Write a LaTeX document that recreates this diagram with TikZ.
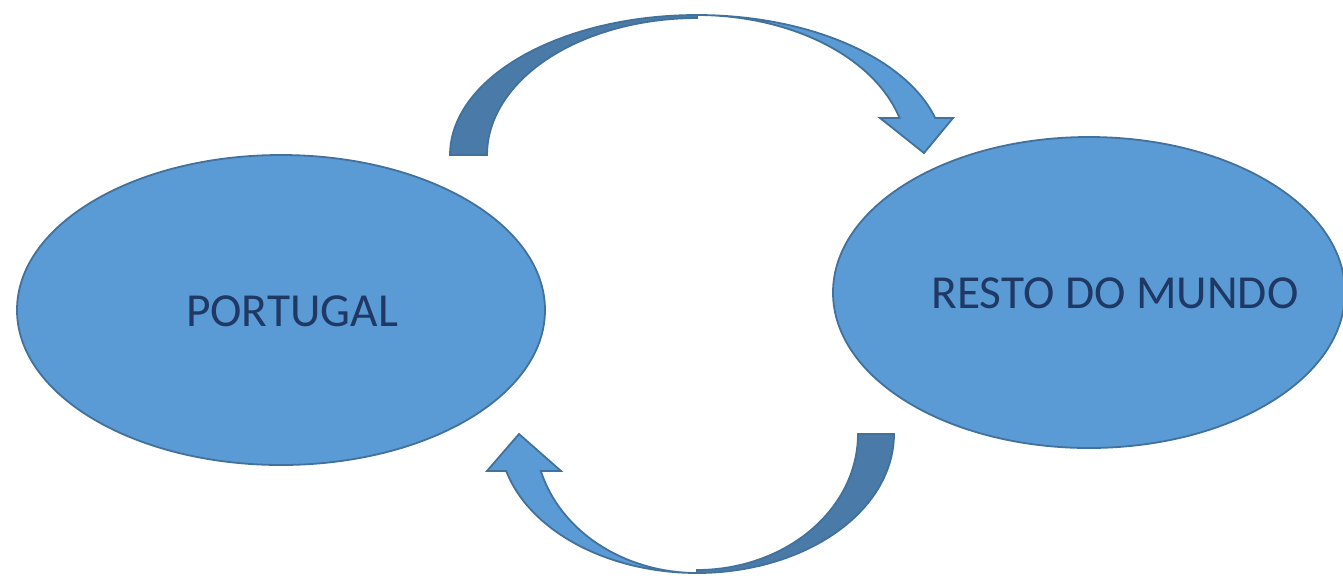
\documentclass[tikz,border=0pt]{standalone}
\usepackage{fontspec}
\setmainfont{Carlito}
\usetikzlibrary{shapes.geometric}
\definecolor{fillblue}{HTML}{5B9BD5}
\definecolor{edgeblue}{HTML}{41719C}
\definecolor{darkband}{HTML}{4A7BA8}
\definecolor{txtblue}{HTML}{1F3864}
\begin{document}
\begin{tikzpicture}[x=0.5pt,y=-0.5pt,
  ell/.style={ellipse, draw=edgeblue, fill=fillblue, line width=0.9pt, inner sep=0pt},
  lbl/.style={text=txtblue, font=\fontsize{23.7}{28}\selectfont, inner sep=0pt},
  light/.style={fill=fillblue, draw=edgeblue, line width=0.9pt, line join=miter},
  dark/.style={fill=darkband, draw=edgeblue, line width=0.9pt, line join=miter}]
\useasboundingbox (0,0) rectangle (1343,575);
% ellipses
\node[ell, minimum width=264pt, minimum height=155pt] (pt) at (281,310) {};
\node[ell, minimum width=256pt, minimum height=155.5pt] (rm) at (1089,292.5) {};
\node[lbl] (ptl) at (292,311) {PORTUGAL};
\node[lbl] (rml) at (1115,293) {RESTO DO MUNDO};
% top arrow: light part
\draw[light] plot[domain=270:344.67, samples=40] ({697+247*cos(\x)}, {155+140*sin(\x)})
  -- (953,118) -- (924,153) -- (880,118)
  -- plot[domain=344.67:270, samples=40] ({697+210*cos(\x)}, {155+140*sin(\x)}) -- cycle;
% top arrow: dark part
\draw[dark] plot[domain=180:270, samples=40] ({697+247*cos(\x)}, {155+140*sin(\x)})
  -- plot[domain=270:180, samples=40] ({697+210*cos(\x)}, {155+137*sin(\x)}) -- cycle;
% bottom arrow: light part
\draw[light] plot[domain=90:164.57, samples=40] ({697+198*cos(\x)}, {434+139*sin(\x)})
  -- (487,471) -- (519,434) -- (561,471)
  -- plot[domain=164.57:90, samples=40] ({697+162*cos(\x)}, {434+139*sin(\x)}) -- cycle;
% bottom arrow: dark part
\draw[dark] plot[domain=0:90, samples=40] ({697+197*cos(\x)}, {434+139*sin(\x)})
  -- plot[domain=90:0, samples=40] ({697+161*cos(\x)}, {434+136*sin(\x)}) -- cycle;
\end{tikzpicture}
\end{document}
